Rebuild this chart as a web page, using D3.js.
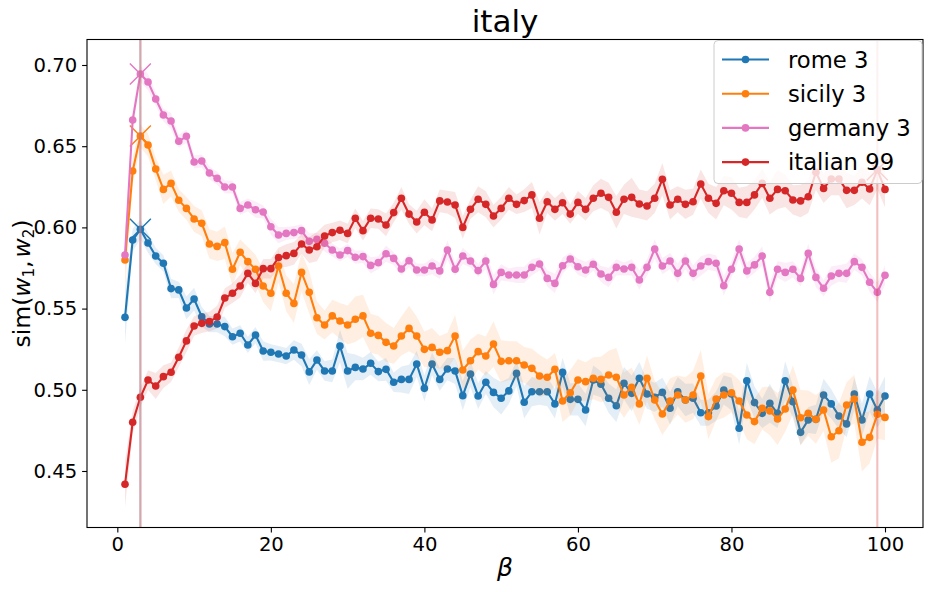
<!DOCTYPE html>
<html>
  <head>
    <title>italy</title>
    <script src="https://d3js.org/d3.v7.min.js"></script>
    <style>
      body { margin: 0; background: #fff; }
      svg { font-family: "DejaVu Sans", sans-serif; }
      .line { fill: none; stroke-width: 2.1; }
      .band { stroke: none; opacity: 0.12; }
    </style>
  </head>
  <body>
    <svg width="934" height="592"></svg>
    <script>

    const betas = d3.range(1, 101);

    const rome = [
      0.5446, 0.5922, 0.5988, 0.5904, 0.5824, 0.5779, 0.5623, 0.5615, 0.5504, 0.5559,
      0.5450, 0.5405, 0.5405, 0.5389, 0.5327, 0.5348, 0.5276, 0.5337, 0.5239, 0.5231,
      0.5220, 0.5208, 0.5245, 0.5214, 0.5110, 0.5183, 0.5116, 0.5116, 0.5270, 0.5116,
      0.5138, 0.5128, 0.5163, 0.5112, 0.5126, 0.5046, 0.5064, 0.5064, 0.5159, 0.5009,
      0.5159, 0.5064, 0.5128, 0.5116, 0.4964, 0.5097, 0.4962, 0.5046, 0.4984, 0.4948,
      0.4993, 0.5101, 0.4923, 0.4988, 0.4988, 0.4988, 0.4913, 0.5107, 0.4941, 0.4941,
      0.4876, 0.5060, 0.5034, 0.4948, 0.4902, 0.5040, 0.4978, 0.5071, 0.4974, 0.4954,
      0.4984, 0.4886, 0.4988, 0.4937, 0.4948, 0.4859, 0.4859, 0.4900, 0.4999, 0.4974,
      0.4763, 0.5056, 0.4921, 0.4855, 0.4917, 0.4855, 0.5056, 0.4927, 0.4738, 0.4814,
      0.4818, 0.4968, 0.4913, 0.4839, 0.4790, 0.4974, 0.4814, 0.4974, 0.4876, 0.4962];

    const sicily = [
      0.5799, 0.6347, 0.6563, 0.6507, 0.6360, 0.6234, 0.6271, 0.6167, 0.6117, 0.6052,
      0.6025, 0.5898, 0.5883, 0.5906, 0.5742, 0.5847, 0.5789, 0.5742, 0.5639, 0.5594,
      0.5762, 0.5594, 0.5532, 0.5723, 0.5600, 0.5444, 0.5399, 0.5455, 0.5424, 0.5399,
      0.5434, 0.5455, 0.5348, 0.5335, 0.5292, 0.5270, 0.5331, 0.5378, 0.5331, 0.5249,
      0.5261, 0.5231, 0.5241, 0.5331, 0.5122, 0.5179, 0.5235, 0.5208, 0.5282, 0.5175,
      0.5179, 0.5179, 0.5153, 0.5132, 0.5085, 0.5077, 0.5126, 0.4931, 0.4982, 0.5060,
      0.5050, 0.5071, 0.5064, 0.5091, 0.5077, 0.4968, 0.5015, 0.4913, 0.5071, 0.4937,
      0.4851, 0.4931, 0.4968, 0.4937, 0.4968, 0.5085, 0.4835, 0.4943, 0.4968, 0.4982,
      0.4931, 0.4845, 0.4804, 0.4886, 0.4870, 0.4820, 0.4882, 0.4999, 0.4828, 0.4855,
      0.4818, 0.4876, 0.4711, 0.4748, 0.4906, 0.4943, 0.4677, 0.4707, 0.4849, 0.4830];

    const germany = [
      0.5830, 0.6661, 0.6945, 0.6895, 0.6791, 0.6692, 0.6655, 0.6530, 0.6561, 0.6403,
      0.6409, 0.6335, 0.6302, 0.6249, 0.6249, 0.6117, 0.6138, 0.6109, 0.6095, 0.6004,
      0.5953, 0.5963, 0.5968, 0.5980, 0.5914, 0.5926, 0.5902, 0.5861, 0.5830, 0.5857,
      0.5816, 0.5820, 0.5766, 0.5783, 0.5838, 0.5809, 0.5744, 0.5795, 0.5738, 0.5738,
      0.5762, 0.5732, 0.5861, 0.5742, 0.5824, 0.5793, 0.5734, 0.5793, 0.5649, 0.5723,
      0.5707, 0.5707, 0.5707, 0.5754, 0.5775, 0.5686, 0.5655, 0.5764, 0.5805, 0.5758,
      0.5738, 0.5773, 0.5713, 0.5692, 0.5754, 0.5744, 0.5754, 0.5676, 0.5754, 0.5867,
      0.5762, 0.5793, 0.5717, 0.5793, 0.5717, 0.5762, 0.5789, 0.5779, 0.5641, 0.5742,
      0.5867, 0.5732, 0.5769, 0.5824, 0.5600, 0.5742, 0.5723, 0.5742, 0.5686, 0.5840,
      0.5692, 0.5625, 0.5701, 0.5717, 0.5717, 0.5789, 0.5754, 0.5662, 0.5600, 0.5705];

    const italian = [
      0.4418, 0.4800, 0.4954, 0.5060, 0.5023, 0.5081, 0.5108, 0.5200, 0.5301, 0.5393,
      0.5409, 0.5420, 0.5448, 0.5565, 0.5594, 0.5639, 0.5717, 0.5655, 0.5746, 0.5746,
      0.5814, 0.5826, 0.5840, 0.5898, 0.5861, 0.5881, 0.5947, 0.5968, 0.5982, 0.5963,
      0.6056, 0.5980, 0.6056, 0.6052, 0.6015, 0.6091, 0.6179, 0.6082, 0.6033, 0.6093,
      0.6046, 0.6163, 0.6156, 0.6138, 0.6000, 0.6111, 0.6173, 0.6142, 0.6070, 0.6117,
      0.6179, 0.6142, 0.6165, 0.6200, 0.6056, 0.6158, 0.6111, 0.6152, 0.6082, 0.6154,
      0.6111, 0.6179, 0.6210, 0.6185, 0.6093, 0.6173, 0.6185, 0.6144, 0.6132, 0.6179,
      0.6296, 0.6138, 0.6173, 0.6142, 0.6158, 0.6267, 0.6179, 0.6148, 0.6226, 0.6210,
      0.6154, 0.6154, 0.6200, 0.6271, 0.6179, 0.6234, 0.6226, 0.6169, 0.6163, 0.6189,
      0.6340, 0.6240, 0.6298, 0.6298, 0.6228, 0.6228, 0.6278, 0.6236, 0.6355, 0.6234];

    // half-width of the shaded band around each line
    const romeHw = [
      0.016, 0.007, 0.006, 0.006, 0.005, 0.005, 0.006, 0.005, 0.007, 0.007,
      0.006, 0.005, 0.005, 0.006, 0.005, 0.005, 0.005, 0.005, 0.006, 0.005,
      0.005, 0.005, 0.006, 0.007, 0.008, 0.006, 0.006, 0.007, 0.010, 0.011,
      0.008, 0.007, 0.007, 0.006, 0.007, 0.006, 0.008, 0.009, 0.008, 0.008,
      0.007, 0.007, 0.007, 0.008, 0.009, 0.008, 0.008, 0.007, 0.009, 0.010,
      0.008, 0.008, 0.010, 0.009, 0.008, 0.009, 0.009, 0.009, 0.010, 0.010,
      0.010, 0.009, 0.008, 0.009, 0.010, 0.010, 0.011, 0.010, 0.009, 0.009,
      0.009, 0.010, 0.009, 0.010, 0.009, 0.008, 0.008, 0.009, 0.009, 0.010,
      0.010, 0.011, 0.010, 0.009, 0.012, 0.009, 0.012, 0.010, 0.008, 0.008,
      0.009, 0.010, 0.009, 0.008, 0.008, 0.010, 0.010, 0.011, 0.011, 0.012];

    const sicilyHw = [
      0.020, 0.008, 0.007, 0.007, 0.007, 0.009, 0.008, 0.007, 0.007, 0.008,
      0.008, 0.009, 0.009, 0.010, 0.010, 0.008, 0.009, 0.009, 0.010, 0.011,
      0.010, 0.011, 0.012, 0.012, 0.013, 0.010, 0.009, 0.010, 0.011, 0.012,
      0.014, 0.013, 0.012, 0.012, 0.012, 0.011, 0.012, 0.014, 0.012, 0.011,
      0.012, 0.010, 0.011, 0.013, 0.012, 0.013, 0.011, 0.012, 0.014, 0.013,
      0.012, 0.012, 0.011, 0.012, 0.013, 0.011, 0.010, 0.013, 0.014, 0.013,
      0.012, 0.013, 0.014, 0.015, 0.018, 0.014, 0.012, 0.013, 0.014, 0.012,
      0.013, 0.014, 0.012, 0.014, 0.015, 0.016, 0.014, 0.013, 0.014, 0.012,
      0.013, 0.015, 0.014, 0.013, 0.015, 0.016, 0.014, 0.015, 0.017, 0.014,
      0.015, 0.013, 0.016, 0.017, 0.014, 0.015, 0.018, 0.016, 0.015, 0.014];

    const germanyHw = [
      0.010, 0.006, 0.005, 0.005, 0.004, 0.004, 0.005, 0.004, 0.004, 0.004,
      0.004, 0.004, 0.004, 0.004, 0.004, 0.004, 0.004, 0.005, 0.004, 0.005,
      0.005, 0.004, 0.004, 0.004, 0.005, 0.004, 0.005, 0.004, 0.004, 0.004,
      0.004, 0.004, 0.005, 0.004, 0.005, 0.004, 0.004, 0.004, 0.004, 0.004,
      0.005, 0.005, 0.006, 0.004, 0.005, 0.004, 0.004, 0.005, 0.006, 0.005,
      0.004, 0.005, 0.005, 0.005, 0.004, 0.005, 0.006, 0.005, 0.004, 0.005,
      0.005, 0.004, 0.005, 0.006, 0.005, 0.004, 0.005, 0.006, 0.005, 0.006,
      0.005, 0.005, 0.006, 0.005, 0.005, 0.006, 0.005, 0.005, 0.006, 0.005,
      0.006, 0.005, 0.005, 0.006, 0.006, 0.005, 0.006, 0.005, 0.005, 0.006,
      0.006, 0.005, 0.006, 0.005, 0.006, 0.005, 0.005, 0.006, 0.006, 0.006];

    const italianHw = [
      0.014, 0.007, 0.006, 0.006, 0.008, 0.007, 0.006, 0.006, 0.007, 0.006,
      0.006, 0.006, 0.007, 0.006, 0.006, 0.007, 0.006, 0.006, 0.006, 0.006,
      0.006, 0.007, 0.007, 0.006, 0.008, 0.009, 0.007, 0.006, 0.006, 0.006,
      0.006, 0.006, 0.006, 0.006, 0.007, 0.006, 0.007, 0.006, 0.007, 0.008,
      0.007, 0.007, 0.007, 0.008, 0.007, 0.006, 0.008, 0.008, 0.007, 0.007,
      0.007, 0.006, 0.007, 0.008, 0.010, 0.007, 0.007, 0.007, 0.006, 0.007,
      0.007, 0.008, 0.009, 0.009, 0.010, 0.009, 0.012, 0.009, 0.009, 0.009,
      0.010, 0.009, 0.008, 0.009, 0.008, 0.009, 0.009, 0.010, 0.009, 0.010,
      0.009, 0.010, 0.009, 0.009, 0.010, 0.012, 0.010, 0.009, 0.010, 0.010,
      0.011, 0.009, 0.010, 0.010, 0.011, 0.009, 0.010, 0.010, 0.012, 0.011];

    const names = ["rome", "sicily", "germany", "italian"];
    const colors = ["#1f77b4", "#ff7f0e", "#e377c2", "#d62728"];
    const yTicks = [0.45, 0.50, 0.55, 0.60, 0.65, 0.70];
    const xTicks = [0, 20, 40, 60, 80, 100];

    const series = [
      { name: names[0], color: colors[0], values: rome, hw: romeHw },
      { name: names[1], color: colors[1], values: sicily, hw: sicilyHw },
      { name: names[2], color: colors[2], values: germany, hw: germanyHw },
      { name: names[3], color: colors[3], values: italian, hw: italianHw }
    ];
    series.forEach(s => {
      s.pts = betas.map((b, i) => ({ b: b, v: s.values[i], hw: s.hw[i] }));
      s.best = s.pts[d3.maxIndex(s.values)];
    });

    const svg = d3.select("svg"),
        margin = { top: 39.5, right: 11, bottom: 64.5, left: 87 },
        width = +svg.attr("width") - margin.left - margin.right,
        height = +svg.attr("height") - margin.top - margin.bottom;

    const x = d3.scaleLinear().domain([-3.95, 104.95]).range([margin.left, margin.left + width]);
    const y = d3.scaleLinear().domain([0.4152, 0.7157]).range([margin.top + height, margin.top]);

    svg.append("defs").append("clipPath").attr("id", "clip")
      .append("rect")
      .attr("x", margin.left).attr("y", margin.top)
      .attr("width", width).attr("height", height);

    const plot = svg.append("g").attr("clip-path", "url(#clip)");

    const area = d3.area()
      .x(d => x(d.b))
      .y0(d => y(d.v - d.hw))
      .y1(d => y(d.v + d.hw));

    const line = d3.line()
      .x(d => x(d.b))
      .y(d => y(d.v));

    series.forEach(s => {
      plot.append("path")
        .datum(s.pts)
        .attr("class", "band")
        .attr("fill", s.color)
        .attr("d", area);

      plot.append("path")
        .datum(s.pts)
        .attr("class", "line")
        .attr("stroke", s.color)
        .attr("d", line);

      plot.append("g")
        .selectAll("circle")
        .data(s.pts)
        .join("circle")
        .attr("cx", d => x(d.b))
        .attr("cy", d => y(d.v))
        .attr("r", 3.8)
        .attr("fill", s.color);

      // big x at the maximum
      const bx = x(s.best.b), by = y(s.best.v), k = 10.5;
      plot.append("path")
        .attr("d", `M${bx - k},${by - k}L${bx + k},${by + k}M${bx - k},${by + k}L${bx + k},${by - k}`)
        .attr("stroke", s.color)
        .attr("stroke-width", 1.4)
        .attr("fill", "none");
    });

    // vertical lines at each maximum
    series.forEach(s => {
      plot.append("line")
        .attr("x1", x(s.best.b)).attr("x2", x(s.best.b))
        .attr("y1", margin.top).attr("y2", margin.top + height)
        .attr("stroke", s.color)
        .attr("stroke-width", 2.1)
        .attr("stroke-opacity", 0.3);
    });

    // axes
    const xAxis = svg.append("g")
      .attr("transform", `translate(0,${margin.top + height})`)
      .call(d3.axisBottom(x).tickValues(xTicks).tickFormat(d3.format("d")).tickSize(4.9).tickPadding(4.9));

    const yAxis = svg.append("g")
      .attr("transform", `translate(${margin.left},0)`)
      .call(d3.axisLeft(y).tickValues(yTicks).tickFormat(d3.format(".2f")).tickSize(4.9).tickPadding(4.9));

    [xAxis, yAxis].forEach(a => {
      a.select(".domain").remove();
      a.selectAll("line").attr("stroke", "#000").attr("stroke-width", 1.1);
      a.selectAll("text")
        .attr("fill", "#000")
        .style("font-size", "19.6px")
        .style("font-family", "DejaVu Sans");
    });

    svg.append("rect")
      .attr("x", margin.left).attr("y", margin.top)
      .attr("width", width).attr("height", height)
      .attr("fill", "none")
      .attr("stroke", "#000")
      .attr("stroke-width", 1.1);

    // title and labels
    svg.append("text")
      .attr("x", margin.left + width / 2)
      .attr("y", 32)
      .attr("text-anchor", "middle")
      .style("font-size", "31px")
      .text("italy");

    svg.append("text")
      .attr("x", margin.left + width / 2)
      .attr("y", 576)
      .attr("text-anchor", "middle")
      .style("font-size", "25px")
      .style("font-style", "italic")
      .text("β");

    const yl = svg.append("text")
      .attr("transform", `translate(30,${margin.top + height / 2}) rotate(-90)`)
      .attr("text-anchor", "middle")
      .style("font-size", "23.5px");
    yl.append("tspan").text("sim(");
    yl.append("tspan").style("font-style", "italic").text("w");
    yl.append("tspan").attr("dy", 4).style("font-size", "15px").text("1");
    yl.append("tspan").attr("dy", -4).text(",");
    yl.append("tspan").attr("dx", 3).style("font-style", "italic").text("w");
    yl.append("tspan").attr("dy", 4).style("font-size", "15px").text("2");
    yl.append("tspan").attr("dy", -4).text(")");

    // legend
    const legend = svg.append("g");
    legend.append("rect")
      .attr("x", 714).attr("y", 40.5)
      .attr("width", 208).attr("height", 143)
      .attr("rx", 4)
      .attr("fill", "#fff")
      .attr("fill-opacity", 0.8)
      .attr("stroke", "#cccccc")
      .attr("stroke-width", 1);

    series.forEach((s, i) => {
      const ly = 59.5 + i * 34.2;
      legend.append("line")
        .attr("x1", 722).attr("x2", 769)
        .attr("y1", ly).attr("y2", ly)
        .attr("stroke", s.color)
        .attr("stroke-width", 2.1);
      legend.append("circle")
        .attr("cx", 745.5).attr("cy", ly)
        .attr("r", 3.8)
        .attr("fill", s.color);
      legend.append("text")
        .attr("x", 788)
        .attr("y", ly + 8)
        .style("font-size", "22.7px")
        .text(`${s.name} ${s.best.b}`);
    });

    </script>
  </body>
</html>
